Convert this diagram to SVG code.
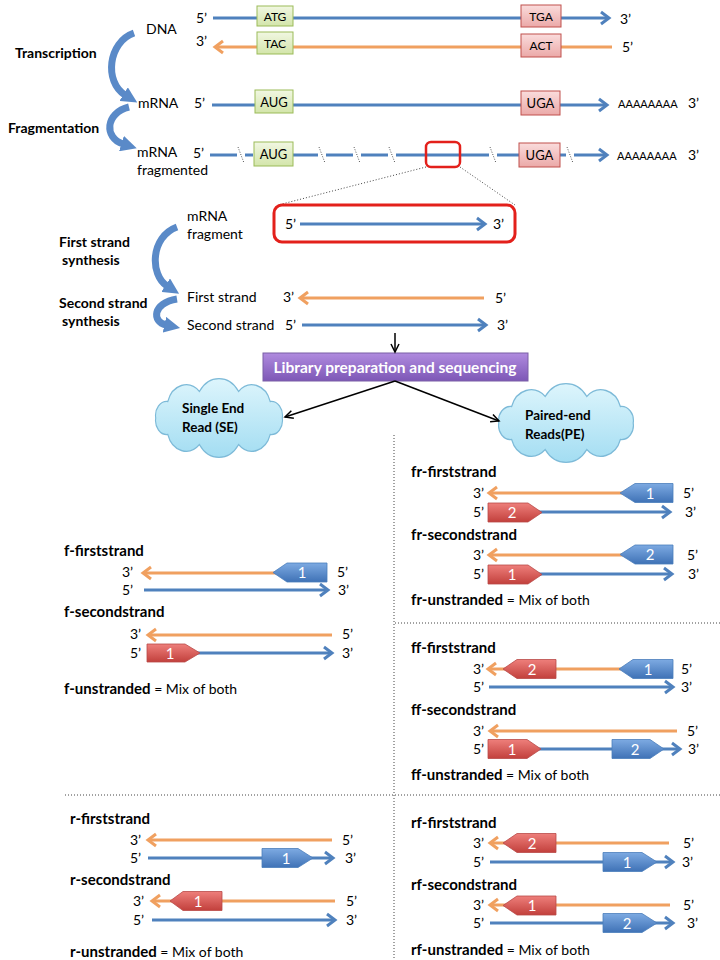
<svg xmlns="http://www.w3.org/2000/svg" width="720" height="960" viewBox="0 0 720 960">
<style>
text{font-family:Lato,"Liberation Sans",sans-serif;font-size:14px;fill:#000}
.b{font-weight:bold}
.h{font-size:15px;font-weight:bold}
.s11{font-size:12px}
.s12{font-size:13px}
.aa{font-size:11px}
.w{fill:#fff}
.num{fill:#fff;font-size:15px;text-anchor:middle}
.mid{text-anchor:middle}
.bl{stroke:#4F81BD;stroke-width:3;fill:none}
.or{stroke:#F0A060;stroke-width:3;fill:none}
.blA{stroke:#4F81BD;stroke-width:3;fill:none;marker-end:url(#mb)}
.orA{stroke:#F0A060;stroke-width:3;fill:none;marker-end:url(#mo)}
.gb{fill:url(#gg);stroke:#9BBB59;stroke-width:1}
.pb{fill:url(#gp);stroke:#C0504D;stroke-width:1}
.bx{fill:url(#gbl);stroke:#4A7EBB;stroke-width:0.8}
.rx{fill:url(#grd);stroke:#B94A48;stroke-width:0.8}
.cv{stroke:#5A8AC8;stroke-width:7;fill:none;marker-end:url(#mc)}
.dot{stroke:#444;stroke-width:1;stroke-dasharray:1 2;fill:none}
.brk{stroke:#555;stroke-width:1;stroke-dasharray:1 1.5;fill:none}
.blk{stroke:#000;stroke-width:1.5;fill:none;marker-end:url(#mk)}
.cl{fill:url(#gc);stroke:#7DBAD8;stroke-width:1}
</style>
<defs>
<linearGradient id="gg" x1="0" y1="0" x2="0" y2="1"><stop offset="0" stop-color="#F1F7E2"/><stop offset="1" stop-color="#D3E5AA"/></linearGradient>
<linearGradient id="gp" x1="0" y1="0" x2="0" y2="1"><stop offset="0" stop-color="#FADCDC"/><stop offset="1" stop-color="#EBA9A8"/></linearGradient>
<linearGradient id="gbl" x1="0" y1="0" x2="0" y2="1"><stop offset="0" stop-color="#7DAAE2"/><stop offset="1" stop-color="#3F72B6"/></linearGradient>
<linearGradient id="grd" x1="0" y1="0" x2="0" y2="1"><stop offset="0" stop-color="#EE7F7B"/><stop offset="1" stop-color="#C2403C"/></linearGradient>
<linearGradient id="gpu" x1="0" y1="0" x2="0" y2="1"><stop offset="0" stop-color="#B08BDF"/><stop offset="1" stop-color="#7D57B6"/></linearGradient>
<linearGradient id="gc" x1="0" y1="0" x2="0" y2="1"><stop offset="0" stop-color="#DDF5FC"/><stop offset="1" stop-color="#A3DDF2"/></linearGradient>
<marker id="mb" viewBox="0 0 12 16" refX="10" refY="8" markerWidth="12" markerHeight="16" markerUnits="userSpaceOnUse" orient="auto" overflow="visible"><path d="M2,2 L10,8 L2,14" fill="none" stroke="#4F81BD" stroke-width="3"/></marker>
<marker id="mo" viewBox="0 0 12 16" refX="10" refY="8" markerWidth="12" markerHeight="16" markerUnits="userSpaceOnUse" orient="auto" overflow="visible"><path d="M2,2 L10,8 L2,14" fill="none" stroke="#F0A060" stroke-width="3"/></marker>
<marker id="mc" viewBox="0 0 10 10" refX="1" refY="5" markerWidth="16" markerHeight="16" markerUnits="userSpaceOnUse" orient="auto"><path d="M0,0 L10,5 L0,10 Z" fill="#5A8AC8"/></marker>
<marker id="mk" viewBox="0 0 10 10" refX="9" refY="5" markerWidth="10" markerHeight="10" markerUnits="userSpaceOnUse" orient="auto" overflow="visible"><path d="M1,1 L9,5 L1,9" fill="none" stroke="#000" stroke-width="1.5"/></marker>
<path id="cloud" d="M56,0 A10,10 0 0 1 45.3,11.8 A17,17 0 0 1 17.3,19 A21,21 0 0 1 -17.3,19 A17,17 0 0 1 -45.3,11.8 A10,10 0 0 1 -56,0 A10,10 0 0 1 -45.3,-11.8 A17,17 0 0 1 -17.3,-19 A21,21 0 0 1 17.3,-19 A17,17 0 0 1 45.3,-11.8 A10,10 0 0 1 56,0 Z"/>
</defs>
<rect width="720" height="960" fill="#fff"/>

<!-- left process labels and curved arrows -->
<g id="process">
<text x="15" y="58" class="b">Transcription</text>
<text x="8" y="133" class="b">Fragmentation</text>
<text x="59" y="247" class="b">First strand</text>
<text x="62" y="265" class="b">synthesis</text>
<text x="59" y="308" class="b">Second strand</text>
<text x="62" y="326" class="b">synthesis</text>
<path class="cv" d="M134,33 C108,42 104,82 125,95"/>
<path class="cv" d="M129,107 C105,113 104,138 123,144"/>
<path class="cv" d="M177,227 C150,237 150,275 167,286"/>
<path class="cv" d="M177,299 C152,303 152,322 166,325"/>
</g>

<g id="dna">
<text x="146" y="34">DNA</text>
<text x="196" y="23">5’</text>
<line class="bl" x1="213" y1="18" x2="257" y2="18"/>
<line class="blA" x1="293" y1="18" x2="609" y2="18"/>
<rect class="gb" x="257" y="6" width="36" height="20"/>
<text x="275" y="20.5" class="s11 mid">ATG</text>
<rect class="pb" x="521" y="5" width="40" height="22"/>
<text x="541" y="20.5" class="s11 mid">TGA</text>
<text x="620" y="24">3’</text>
<text x="196" y="46">3’</text>
<line class="orA" x1="612" y1="47" x2="215" y2="47"/>
<rect class="gb" x="257" y="32" width="36" height="22"/>
<text x="275" y="47.5" class="s11 mid">TAC</text>
<rect class="pb" x="521" y="34" width="40" height="23"/>
<text x="541" y="50" class="s11 mid">ACT</text>
<text x="622" y="52">5’</text>
</g>

<g id="mrna">
<text x="138" y="108">mRNA</text>
<text x="194" y="108">5’</text>
<line class="bl" x1="212" y1="105" x2="255" y2="105"/>
<line class="blA" x1="293" y1="105" x2="607" y2="105"/>
<rect class="gb" x="255" y="90" width="38" height="23"/>
<text x="274" y="106.5" class="s12 mid">AUG</text>
<rect class="pb" x="521" y="91" width="39" height="24"/>
<text x="540.5" y="108" class="s12 mid">UGA</text>
<text x="618" y="108" class="aa">AAAAAAAA</text>
<text x="688" y="108">3’</text>
</g>

<g id="mrna-fragmented">
<text x="137" y="157">mRNA</text>
<text x="137" y="175">fragmented</text>
<text x="193" y="158">5’</text>
<line class="bl" x1="210" y1="155" x2="237" y2="155"/>
<line class="bl" x1="245" y1="155" x2="253" y2="155"/>
<line class="bl" x1="293" y1="155" x2="318" y2="155"/>
<line class="bl" x1="326" y1="155" x2="353" y2="155"/>
<line class="bl" x1="361" y1="155" x2="388" y2="155"/>
<line class="bl" x1="396" y1="155" x2="489" y2="155"/>
<line class="bl" x1="497" y1="155" x2="519" y2="155"/>
<line class="bl" x1="560" y1="155" x2="566" y2="155"/>
<line class="blA" x1="574" y1="155" x2="607" y2="155"/>
<path class="brk" d="M238,147 L244,163 M319,147 L325,163 M354,147 L360,163 M389,147 L395,163 M490,147 L496,163 M567,147 L573,163"/>
<rect class="gb" x="254" y="142" width="39" height="24"/>
<text x="273.5" y="159" class="s12 mid">AUG</text>
<rect class="pb" x="519" y="143" width="41" height="24"/>
<text x="539.5" y="160" class="s12 mid">UGA</text>
<rect x="426" y="142" width="34" height="25" rx="5" fill="none" stroke="#E3201B" stroke-width="2.5"/>
<text x="617" y="160" class="aa">AAAAAAAA</text>
<text x="688" y="160">3’</text>
<path class="dot" d="M426,167 L278,205 M460,167 L515,205"/>
</g>

<g id="mrna-fragment">
<text x="187" y="221">mRNA</text>
<text x="187" y="239">fragment</text>
<rect x="274" y="205" width="241" height="37" rx="8" fill="none" stroke="#E3201B" stroke-width="3"/>
<text x="285" y="229">5’</text>
<line class="blA" x1="300" y1="224" x2="485" y2="224"/>
<text x="493" y="229">3’</text>
</g>

<g id="first-strand">
<text x="187" y="302">First strand</text>
<text x="283" y="302">3’</text>
<line class="orA" x1="484" y1="298" x2="300" y2="298"/>
<text x="495" y="303">5’</text>
</g>

<g id="second-strand">
<text x="187" y="330">Second strand</text>
<text x="285" y="330">5’</text>
<line class="blA" x1="302" y1="325" x2="486" y2="325"/>
<text x="497" y="330">3’</text>
</g>

<g id="library">
<rect x="263" y="353" width="265" height="28" fill="url(#gpu)" stroke="#7A5FA6" stroke-width="1"/>
<text x="395" y="373" class="w mid" style="font-size:15.5px;font-weight:bold">Library preparation and sequencing</text>
</g>

<g id="se-cloud">
<use href="#cloud" class="cl" transform="translate(219,418) scale(1.13,1.4)"/>
<text x="182" y="413" class="b" style="font-size:13.5px">Single End</text>
<text x="182" y="432" class="b" style="font-size:13.5px">Read (SE)</text>
</g>

<g id="pe-cloud">
<use href="#cloud" class="cl" transform="translate(566,423) scale(1.2,1.4)"/>
<text x="525" y="420" class="b" style="font-size:13.5px">Paired-end</text>
<text x="525" y="439" class="b" style="font-size:13.5px">Reads(PE)</text>
</g>

<g id="connectors">
<line class="blk" x1="395" y1="333" x2="395" y2="352"/>
<line class="blk" x1="395" y1="381" x2="285" y2="417"/>
<line class="blk" x1="395" y1="381" x2="499" y2="421"/>
<path class="dot" d="M394,435 L394,960 M395,623 L720,623 M65,795 L720,795"/>
</g>

<!-- f panel -->
<g id="f-panel">
<text x="64" y="556" class="h">f-firststrand</text>
<text x="122" y="577">3’</text>
<line class="orA" x1="280" y1="573" x2="143" y2="573"/>
<path class="bx" d="M273,572.5 L287,563 L327,563 L327,582 L287,582 Z"/>
<text x="302" y="578" class="num">1</text>
<text x="337" y="577">5’</text>
<text x="122" y="595">5’</text>
<line class="blA" x1="144" y1="590" x2="328" y2="590"/>
<text x="338" y="595">3’</text>
<text x="64" y="617" class="h">f-secondstrand</text>
<text x="130" y="639">3’</text>
<line class="orA" x1="332" y1="635" x2="148" y2="635"/>
<text x="342" y="639">5’</text>
<text x="130" y="658">5’</text>
<line class="blA" x1="195" y1="653" x2="332" y2="653"/>
<path class="rx" d="M147,644 L185,644 L200,653 L185,662 L147,662 Z"/>
<text x="170" y="659" class="num">1</text>
<text x="342" y="658">3’</text>
<text x="64" y="694"><tspan class="h">f-unstranded</tspan> = Mix of both</text>
</g>

<!-- fr panel -->
<g id="fr-panel">
<text x="411" y="477" class="h">fr-firststrand</text>
<text x="473" y="498">3’</text>
<line class="orA" x1="625" y1="493" x2="489" y2="493"/>
<path class="bx" d="M620,493 L635,483.5 L673,483.5 L673,502.5 L635,502.5 Z"/>
<text x="650" y="499" class="num">1</text>
<text x="683" y="498">5’</text>
<text x="473" y="517">5’</text>
<line class="blA" x1="535" y1="512" x2="670" y2="512"/>
<path class="rx" d="M488,503 L528,503 L542,512.5 L528,522 L488,522 Z"/>
<text x="512" y="518" class="num">2</text>
<text x="685" y="517">3’</text>
<text x="411" y="540" class="h">fr-secondstrand</text>
<text x="473" y="560">3’</text>
<line class="orA" x1="625" y1="555" x2="489" y2="555"/>
<path class="bx" d="M620,554.5 L635,545 L673,545 L673,564 L635,564 Z"/>
<text x="650" y="560" class="num">2</text>
<text x="687" y="560">5’</text>
<text x="473" y="579">5’</text>
<line class="blA" x1="535" y1="574" x2="672" y2="574"/>
<path class="rx" d="M488,565 L528,565 L542,574.5 L528,584 L488,584 Z"/>
<text x="512" y="580" class="num">1</text>
<text x="688" y="579">3’</text>
<text x="411" y="605"><tspan class="h">fr-unstranded</tspan> = Mix of both</text>
</g>

<!-- ff panel -->
<g id="ff-panel">
<text x="411" y="653" class="h">ff-firststrand</text>
<text x="473" y="674">3’</text>
<line class="orA" x1="625" y1="669" x2="488" y2="669"/>
<path class="rx" d="M503,669 L517,659.5 L556,659.5 L556,678.5 L517,678.5 Z"/>
<text x="532" y="675" class="num">2</text>
<path class="bx" d="M619,669 L633,659.5 L673,659.5 L673,678.5 L633,678.5 Z"/>
<text x="648" y="675" class="num">1</text>
<text x="681" y="674">5’</text>
<text x="473" y="692">5’</text>
<line class="blA" x1="489" y1="687" x2="673" y2="687"/>
<text x="681" y="692">3’</text>
<text x="411" y="715" class="h">ff-secondstrand</text>
<text x="473" y="736">3’</text>
<line class="orA" x1="677" y1="731" x2="490" y2="731"/>
<text x="687" y="736">5’</text>
<text x="473" y="754">5’</text>
<line class="blA" x1="535" y1="749" x2="680" y2="749"/>
<path class="rx" d="M488,739.5 L527,739.5 L541,749 L527,758.5 L488,758.5 Z"/>
<text x="512" y="755" class="num">1</text>
<path class="bx" d="M612,739.5 L650,739.5 L664,749 L650,758.5 L612,758.5 Z"/>
<text x="635" y="755" class="num">2</text>
<text x="688" y="754">3’</text>
<text x="411" y="780"><tspan class="h">ff-unstranded</tspan> = Mix of both</text>
</g>

<!-- r panel -->
<g id="r-panel">
<text x="70" y="824" class="h">r-firststrand</text>
<text x="130" y="845">3’</text>
<line class="orA" x1="332" y1="840" x2="148" y2="840"/>
<text x="342" y="845">5’</text>
<text x="130" y="863">5’</text>
<line class="blA" x1="148" y1="858" x2="333" y2="858"/>
<path class="bx" d="M262,848.5 L298,848.5 L313,858 L298,867.5 L262,867.5 Z"/>
<text x="286" y="864" class="num">1</text>
<text x="345" y="863">3’</text>
<text x="70" y="885" class="h">r-secondstrand</text>
<text x="133" y="906">3’</text>
<line class="orA" x1="335" y1="901" x2="152" y2="901"/>
<path class="rx" d="M170,901 L183,891.5 L222,891.5 L222,910.5 L183,910.5 Z"/>
<text x="198" y="907" class="num">1</text>
<text x="346" y="906">5’</text>
<text x="133" y="925">5’</text>
<line class="blA" x1="152" y1="920" x2="335" y2="920"/>
<text x="346" y="925">3’</text>
<text x="70" y="957"><tspan class="h">r-unstranded</tspan> = Mix of both</text>
</g>

<!-- rf panel -->
<g id="rf-panel">
<text x="411" y="828" class="h">rf-firststrand</text>
<text x="473" y="848">3’</text>
<line class="orA" x1="669" y1="843" x2="490" y2="843"/>
<path class="rx" d="M503,843 L517,833.5 L556,833.5 L556,852.5 L517,852.5 Z"/>
<text x="532" y="849" class="num">2</text>
<text x="683" y="848">5’</text>
<text x="473" y="867">5’</text>
<line class="blA" x1="490" y1="862" x2="673" y2="862"/>
<path class="bx" d="M603,852.5 L642,852.5 L657,862 L642,871.5 L603,871.5 Z"/>
<text x="627" y="868" class="num">1</text>
<text x="682" y="867">3’</text>
<text x="411" y="890" class="h">rf-secondstrand</text>
<text x="473" y="910">3’</text>
<line class="orA" x1="670" y1="905" x2="490" y2="905"/>
<path class="rx" d="M503,905.5 L517,896 L556,896 L556,915 L517,915 Z"/>
<text x="532" y="911" class="num">1</text>
<text x="683" y="910">5’</text>
<text x="473" y="928">5’</text>
<line class="blA" x1="490" y1="923" x2="673" y2="923"/>
<path class="bx" d="M603,913.5 L642,913.5 L657,923 L642,932.5 L603,932.5 Z"/>
<text x="627" y="929" class="num">2</text>
<text x="687" y="928">3’</text>
<text x="411" y="955"><tspan class="h">rf-unstranded</tspan> = Mix of both</text>
</g>
</svg>
